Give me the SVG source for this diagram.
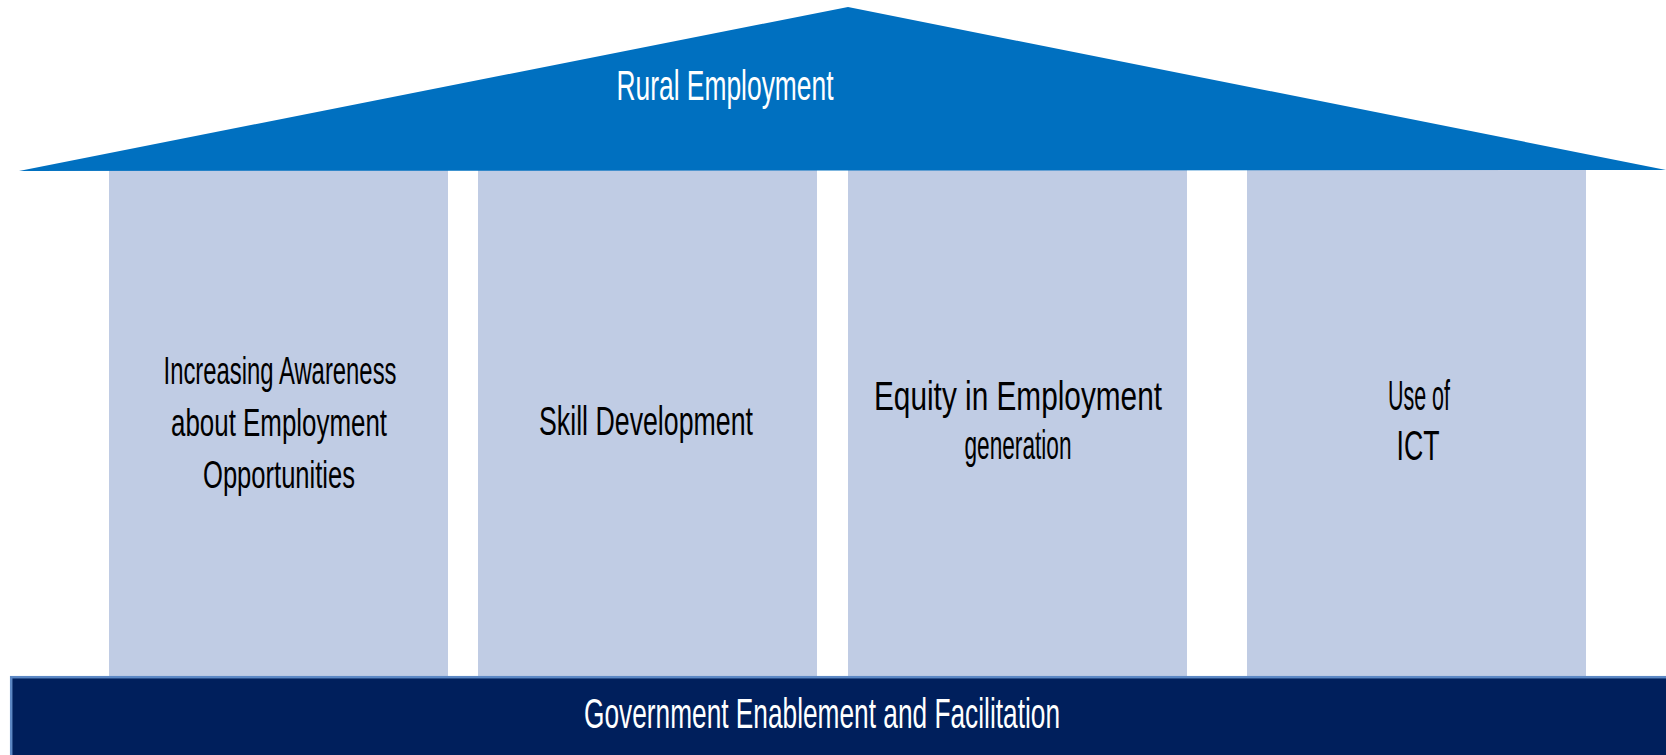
<svg xmlns="http://www.w3.org/2000/svg" width="1666" height="755" viewBox="0 0 1666 755">
<style>
.pillar{fill:#C0CCE4}
.t{font-family:"Liberation Sans Narrow","Liberation Sans",Arial,sans-serif;text-anchor:middle}
.dark{fill:#000000;font-size:40px}
.light{fill:#FFFFFF;font-size:42px}
</style>
<rect x="0" y="0" width="1666" height="755" fill="#FFFFFF"/>
<g id="pillar1">
<rect class="pillar" x="109" y="170" width="339" height="508"/>
<text class="t dark" style="font-size:38px"><tspan x="280" y="384" textLength="233" lengthAdjust="spacingAndGlyphs">Increasing Awareness</tspan><tspan x="279" y="436" textLength="216" lengthAdjust="spacingAndGlyphs">about Employment</tspan><tspan x="279" y="488" textLength="152" lengthAdjust="spacingAndGlyphs">Opportunities</tspan></text>
</g>
<g id="pillar2">
<rect class="pillar" x="478" y="170" width="339" height="508"/>
<text class="t dark" x="646" y="435" textLength="214" lengthAdjust="spacingAndGlyphs">Skill Development</text>
</g>
<g id="pillar3">
<rect class="pillar" x="848" y="170" width="339" height="508"/>
<text class="t dark"><tspan x="1018" y="410" textLength="288" lengthAdjust="spacingAndGlyphs">Equity in Employment</tspan><tspan x="1018" y="459" textLength="107" lengthAdjust="spacingAndGlyphs">generation</tspan></text>
</g>
<g id="pillar4">
<rect class="pillar" x="1247" y="170" width="339" height="508"/>
<text class="t dark" style="font-size:42px"><tspan x="1419" y="410" textLength="62" lengthAdjust="spacingAndGlyphs">Use of</tspan><tspan x="1418" y="460" textLength="43" lengthAdjust="spacingAndGlyphs">ICT</tspan></text>
</g>
<g id="roof">
<polygon points="19,171 848,7 1666,170" fill="#0070C0"/>
<text class="t light" x="725" y="100" textLength="217" lengthAdjust="spacingAndGlyphs">Rural Employment</text>
</g>
<g id="base">
<rect x="11.2" y="677.2" width="1670" height="100" fill="#001F5C" stroke="#5B87C4" stroke-width="2.5"/>
<text class="t light" x="822" y="728" textLength="476" lengthAdjust="spacingAndGlyphs">Government Enablement and Facilitation</text>
</g>
<g id="connectors"/>
</svg>
